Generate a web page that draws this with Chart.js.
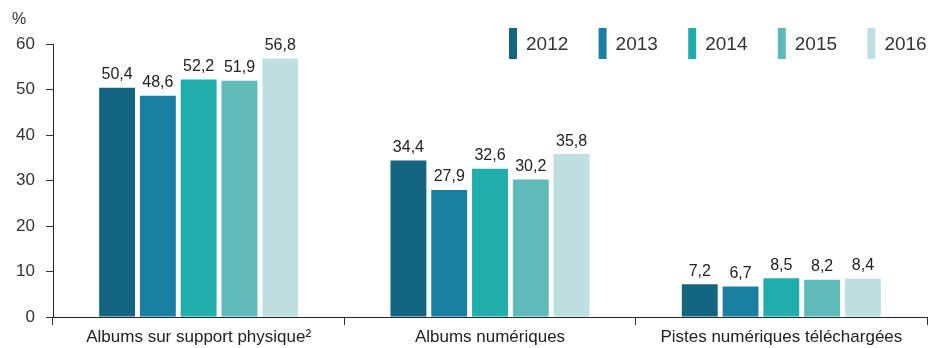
<!DOCTYPE html>
<html><head><meta charset="utf-8">
<script src="https://cdn.jsdelivr.net/npm/chart.js@4/dist/chart.umd.min.js"></script>
<style>html,body{margin:0;padding:0;background:#fff}#wrap{width:930px;height:348px;position:relative}</style>
</head><body><div id="wrap"><canvas id="c"></canvas></div>
<script>
const categories = ["Albums sur support physique²", "Albums numériques", "Pistes numériques téléchargées"];
const years = ["2012", "2013", "2014", "2015", "2016"];
const v2012 = [50.4, 34.4, 7.2];
const v2013 = [48.6, 27.9, 6.7];
const v2014 = [52.2, 32.6, 8.5];
const v2015 = [51.9, 30.2, 8.2];
const v2016 = [56.8, 35.8, 8.4];
const yTicks = [0, 10, 20, 30, 40, 50, 60];
const colors = ["#14657f", "#1a7fa3", "#22adad", "#5fbaba", "#bfe0e0"];
const series = [v2012, v2013, v2014, v2015, v2016];
const FONT = "'Liberation Sans', Arial, sans-serif";

const labelPlugin = {
  id: 'labels',
  afterDatasetsDraw(chart) {
    const ctx = chart.ctx;
    ctx.save();
    ctx.font = "16px " + FONT;
    ctx.fillStyle = "#222";
    ctx.textAlign = "center";
    ctx.textBaseline = "bottom";
    chart.data.datasets.forEach((ds, i) => {
      chart.getDatasetMeta(i).data.forEach((bar, j) => {
        ctx.fillText(String(ds.data[j].toFixed(1)).replace('.', ','), bar.x, bar.y - 5);
      });
    });
    // % unit
    ctx.font = "16px " + FONT;
    ctx.fillStyle = "#333";
    ctx.textAlign = "left";
    ctx.textBaseline = "middle";
    ctx.fillText("%", 12, 20);
    // legend
    const startX = 509, step = 89.6;
    chart.data.datasets.forEach((ds, i) => {
      const x = startX + i * step;
      ctx.fillStyle = ds.backgroundColor;
      ctx.fillRect(x, 28, 8, 31);
      ctx.fillStyle = "#333";
      ctx.font = "19px " + FONT;
      ctx.textBaseline = "middle";
      ctx.fillText(ds.label, x + 17, 45);
    });
    ctx.restore();
  }
};

new Chart(document.getElementById('c'), {
  type: 'bar',
  data: {
    labels: categories,
    datasets: years.map((y, i) => ({
      label: y, data: series[i], backgroundColor: colors[i],
      barPercentage: 0.88, categoryPercentage: 0.7
    }))
  },
  options: {
    responsive: true, maintainAspectRatio: false, animation: false,
    layout: { padding: { left: 0, right: 3, top: 44, bottom: 0 } },
    plugins: { legend: { display: false }, tooltip: { enabled: false } },
    scales: {
      x: {
        grid: { offset: true, drawOnChartArea: false, tickLength: 8, color: "#333" },
        border: { color: "#222", width: 1 },
        ticks: { font: { family: FONT, size: 17 }, color: "#222", padding: 2, maxRotation: 0 },
        afterFit(s) { s.height = 31; }
      },
      y: {
        min: 0, max: 60,
        afterBuildTicks(s) { s.ticks = yTicks.map(v => ({ value: v })); },
        grid: { drawOnChartArea: false, tickLength: 7, color: "#333" },
        border: { color: "#222", width: 1 },
        ticks: { font: { family: FONT, size: 17 }, color: "#333", padding: 11 },
        afterFit(s) { s.width = 53; }
      }
    }
  },
  plugins: [labelPlugin]
});
</script></body></html>
